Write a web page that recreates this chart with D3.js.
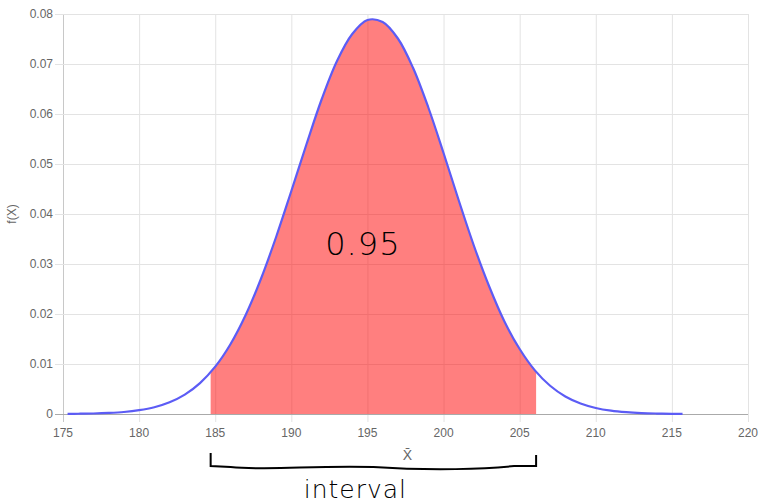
<!DOCTYPE html>
<html><head><meta charset="utf-8">
<script src="https://cdn.jsdelivr.net/npm/d3@7"></script>
<style>
html,body{margin:0;padding:0;background:#fff;}
svg{display:block;font-family:"Liberation Sans",Arial,sans-serif;}
</style></head>
<body><svg id="chart" width="768" height="503"></svg>
<script>
// ---- data ----
const xValues = [175.3,176,177,178,179,180,181,182,183,184,185,186,187,188,189,190,191,192,193,194,195,196,197,198,199,200,201,202,203,204,205,206,207,208,209,210,211,212,213,214,215,215.7];
const densityValues = [0.00003,0.00005,0.0001,0.00021,0.0004,0.00076,0.00135,0.00234,0.00387,0.00618,0.00947,0.01396,0.0198,0.027,0.0354,0.0446,0.054,0.063,0.0706,0.076,0.0788,0.0784,0.0751,0.0692,0.0613,0.0522,0.0427,0.0336,0.0255,0.0185,0.013,0.00873,0.00565,0.00351,0.0021,0.00121,0.00067,0.00036,0.00018,0.00009,0.00004,0.00002];
const intervalBounds = [184.7, 206.08];
const xTicks = [175,180,185,190,195,200,205,210,215,220];
const yTicks = [0,0.01,0.02,0.03,0.04,0.05,0.06,0.07,0.08];
const areaLabel = "0.95";
const xTitle = "X\u0304";
const yTitle = "f(X)";
const bracketLabel = "interval";

const svg = d3.select("#chart");
const m = {left:63, right:20, top:14, bottom:89};
const W = 768, H = 503;
const x = d3.scaleLinear().domain([175,220]).range([m.left, W-m.right]);
const y = d3.scaleLinear().domain([0,0.08]).range([H-m.bottom, m.top]);
const pts = xValues.map((v,i)=>[v, densityValues[i]]);

// grid
const g = svg.append("g");
g.selectAll(".vg").data(xTicks).join("line")
  .attr("x1",d=>x(d)+0.5).attr("x2",d=>x(d)+0.5)
  .attr("y1",m.top).attr("y2",y(0)+8)
  .attr("stroke",(d,i)=>i===0?"#c8c8c8":"#e3e3e3").attr("stroke-width",1);
g.selectAll(".hg").data(yTicks).join("line")
  .attr("x1",m.left-8).attr("x2",W-m.right)
  .attr("y1",d=>Math.round(y(d))+0.5).attr("y2",d=>Math.round(y(d))+0.5)
  .attr("stroke",d=>d===0?"#aaaaaa":"#e3e3e3").attr("stroke-width",1);

// tick labels
svg.append("g").selectAll("text").data(yTicks).join("text")
  .attr("x",m.left-10).attr("y",d=>y(d)+4)
  .attr("text-anchor","end").attr("font-size",12).attr("fill","#666")
  .text(d=>d===0?"0":d3.format(".2f")(d));
svg.append("g").selectAll("text").data(xTicks).join("text")
  .attr("x",d=>x(d)).attr("y",y(0)+23)
  .attr("text-anchor","middle").attr("font-size",12).attr("fill","#666")
  .text(d=>d);

// axis titles
svg.append("text").attr("transform",`translate(16,${(m.top+y(0))/2}) rotate(-90)`)
  .attr("text-anchor","middle").attr("font-size",12).attr("fill","#666").text(yTitle);
svg.append("text").attr("x",(m.left+W-m.right)/2+2).attr("y",y(0)+46)
  .attr("text-anchor","middle").attr("font-size",14).attr("fill","#666").text(xTitle);

// shaded area
svg.append("clipPath").attr("id","ci").append("rect")
  .attr("x",x(intervalBounds[0])).attr("width",x(intervalBounds[1])-x(intervalBounds[0]))
  .attr("y",0).attr("height",y(0));
const area = d3.area().x(d=>x(d[0])).y0(y(0)).y1(d=>y(d[1])).curve(d3.curveCatmullRom);
svg.append("path").datum(pts).attr("d",area).attr("clip-path","url(#ci)")
  .attr("fill","rgba(255,0,0,0.5)");

// curve
const line = d3.line().x(d=>x(d[0])).y(d=>y(d[1])).curve(d3.curveCatmullRom);
svg.append("path").datum(pts).attr("d",line).attr("fill","none")
  .attr("stroke","rgb(92,92,245)").attr("stroke-width",2.2);

// label inside area
svg.append("text").attr("x",x(194.7)).attr("y",y(0.0318))
  .attr("text-anchor","middle").attr("font-size",32).attr("fill","#000")
  .attr("font-family","'DejaVu Sans'").attr("font-weight",200)
  .attr("letter-spacing",1).text(areaLabel);

// bracket annotation
const bx0 = x(intervalBounds[0]), bx1 = x(intervalBounds[1]), by = y(0);
const mid = (bx0+bx1)/2;
const bp = d3.path();
bp.moveTo(bx0, by+39); bp.lineTo(bx0, by+52);
bp.lineTo(bx0+20, by+53);
bp.bezierCurveTo(bx0+60, by+57, mid-60, by+51, mid, by+53);
bp.bezierCurveTo(mid+60, by+57, bx1-50, by+55, bx1-22, by+52);
bp.lineTo(bx1, by+52); bp.lineTo(bx1, by+41);
svg.append("path").attr("d",bp.toString()).attr("fill","none")
  .attr("stroke","#000").attr("stroke-width",2);
svg.append("text").attr("x",(x(184.7)+x(206.08))/2-18).attr("y",by+84)
  .attr("text-anchor","middle").attr("font-size",25).attr("fill","#000")
  .attr("font-family","'DejaVu Sans'").attr("font-weight",200)
  .attr("letter-spacing",1).text(bracketLabel);
</script></body></html>
